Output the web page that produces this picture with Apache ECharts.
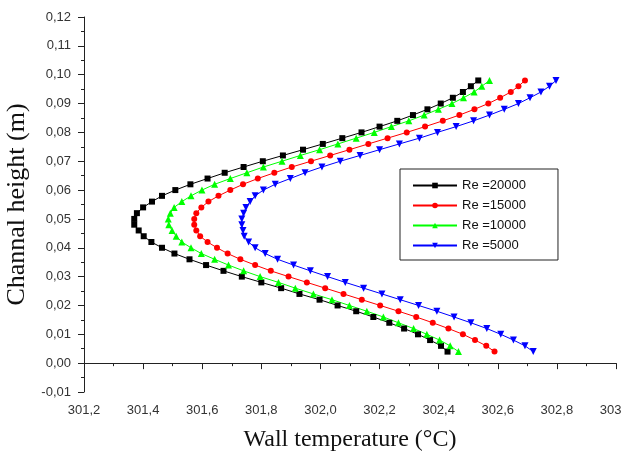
<!DOCTYPE html>
<html>
<head>
<meta charset="utf-8">
<script src="https://cdn.jsdelivr.net/npm/echarts@6/dist/echarts.min.js"></script>
<style>
  html, body { margin: 0; padding: 0; background: #fff; }
  #main { width: 622px; height: 455px; }
</style>
</head>
<body>
<div id="main"></div>
<script>
// channel heights (m), shared by all series, top to bottom
var heights = [0.098, 0.096, 0.094, 0.092, 0.090, 0.088, 0.086, 0.084, 0.082, 0.080,
  0.078, 0.076, 0.074, 0.072, 0.070, 0.068, 0.066, 0.064, 0.062, 0.060,
  0.058, 0.056, 0.054, 0.052, 0.050, 0.048, 0.046, 0.044, 0.042, 0.040,
  0.038, 0.036, 0.034, 0.032, 0.030, 0.028, 0.026, 0.024, 0.022, 0.020,
  0.018, 0.016, 0.014, 0.012, 0.010, 0.008, 0.006, 0.004];

// wall temperature (°C)
var tRe20000 = [302.534, 302.509, 302.482, 302.448, 302.407, 302.362, 302.313, 302.260, 302.200, 302.139,
  302.074, 302.008, 301.941, 301.873, 301.805, 301.740, 301.676, 301.618, 301.560, 301.509,
  301.464, 301.430, 301.400, 301.379, 301.370, 301.370, 301.385, 301.402, 301.428, 301.464,
  301.506, 301.557, 301.613, 301.672, 301.734, 301.800, 301.867, 301.929, 301.997, 302.058,
  302.121, 302.179, 302.233, 302.283, 302.330, 302.371, 302.408, 302.430];
var tRe15000 = [302.692, 302.670, 302.644, 302.608, 302.568, 302.521, 302.470, 302.414, 302.354, 302.292,
  302.227, 302.162, 302.098, 302.033, 301.968, 301.903, 301.844, 301.788, 301.738, 301.695,
  301.655, 301.621, 301.597, 301.580, 301.573, 301.573, 301.580, 301.593, 301.618, 301.650,
  301.686, 301.729, 301.779, 301.832, 301.892, 301.954, 302.016, 302.078, 302.140, 302.202,
  302.264, 302.324, 302.380, 302.433, 302.482, 302.523, 302.561, 302.589];
var tRe10000 = [302.572, 302.546, 302.520, 302.484, 302.445, 302.399, 302.351, 302.299, 302.240, 302.182,
  302.121, 302.059, 301.997, 301.932, 301.870, 301.807, 301.751, 301.695, 301.642, 301.599,
  301.562, 301.531, 301.505, 301.492, 301.485, 301.487, 301.498, 301.512, 301.531, 301.562,
  301.597, 301.642, 301.689, 301.740, 301.796, 301.858, 301.915, 301.976, 302.039, 302.098,
  302.157, 302.213, 302.264, 302.315, 302.360, 302.403, 302.439, 302.467];
var tRe5000 = [302.797, 302.775, 302.746, 302.709, 302.670, 302.622, 302.572, 302.518, 302.459, 302.396,
  302.335, 302.267, 302.200, 302.134, 302.067, 302.005, 301.948, 301.898, 301.847, 301.807,
  301.779, 301.762, 301.748, 301.740, 301.734, 301.734, 301.738, 301.742, 301.757, 301.779,
  301.813, 301.855, 301.909, 301.966, 302.024, 302.084, 302.146, 302.208, 302.270, 302.332,
  302.394, 302.452, 302.509, 302.563, 302.610, 302.653, 302.692, 302.720];

var seriesNames = ["Re =20000", "Re =15000", "Re =10000", "Re =5000"];

function pairs(temps) {
  var out = [];
  for (var i = 0; i < temps.length; i++) {
    out.push([temps[i], heights[i]]);
  }
  return out;
}

var myChart = echarts.init(document.getElementById("main"));

function makeSeries(name, temps, color, symbol, rotate, size) {
  return {
    name: name,
    type: "line",
    data: pairs(temps),
    symbol: symbol,
    symbolSize: size,
    symbolRotate: rotate,
    showAllSymbol: true,
    lineStyle: { color: color, width: 1 },
    itemStyle: { color: color },
    animation: false
  };
}

var option = {
  backgroundColor: "#fff",
  textStyle: { fontFamily: "Liberation Sans" },
  grid: { left: 84, right: 6, top: 17, bottom: 63, containLabel: false, outerBoundsMode: "none" },
  legend: {
    orient: "vertical",
    left: 400,
    top: 169,
    padding: [10, 32, 8, 12],
    borderColor: "#222",
    borderWidth: 1,
    itemWidth: 44,
    itemHeight: 7,
    itemGap: 7,
    textStyle: { fontSize: 13, color: "#111", fontFamily: "Liberation Sans" },
    data: seriesNames
  },
  xAxis: {
    type: "value",
    min: 301.2,
    max: 303.0,
    interval: 0.2,
    name: "Wall temperature (°C)",
    nameLocation: "middle",
    nameGap: 36,
    nameTextStyle: { fontFamily: "Liberation Serif", fontSize: 24, color: "#111" },
    splitLine: { show: false },
    axisLine: { lineStyle: { color: "#222", width: 1 } },
    axisTick: { inside: false, length: 6, lineStyle: { color: "#222" } },
    minorTick: { show: true, splitNumber: 2, length: 3, lineStyle: { color: "#222" } },
    axisLabel: {
      margin: 12,
      fontSize: 13,
      color: "#333",
      formatter: function (v) { return v.toFixed(1).replace(".", ","); }
    }
  },
  yAxis: {
    type: "value",
    min: -0.01,
    max: 0.12,
    interval: 0.01,
    name: "Channal height (m)",
    nameLocation: "middle",
    nameGap: 51,
    nameTextStyle: { fontFamily: "Liberation Serif", fontSize: 26, color: "#111" },
    splitLine: { show: false },
    axisLine: { lineStyle: { color: "#222", width: 1 } },
    axisTick: { inside: false, length: 6, lineStyle: { color: "#222" } },
    minorTick: { show: true, splitNumber: 2, length: 3, lineStyle: { color: "#222" } },
    axisLabel: {
      margin: 13,
      fontSize: 13,
      color: "#333",
      formatter: function (v) { return v.toFixed(2).replace(".", ","); }
    }
  },
  series: [
    makeSeries(seriesNames[0], tRe20000, "#000000", "rect", 0, 6),
    makeSeries(seriesNames[1], tRe15000, "#ff0000", "circle", 0, 6),
    makeSeries(seriesNames[2], tRe10000, "#00ff00", "triangle", 0, 7),
    makeSeries(seriesNames[3], tRe5000, "#0000ff", "triangle", 180, 7)
  ]
};

myChart.setOption(option);
</script>
</body>
</html>
